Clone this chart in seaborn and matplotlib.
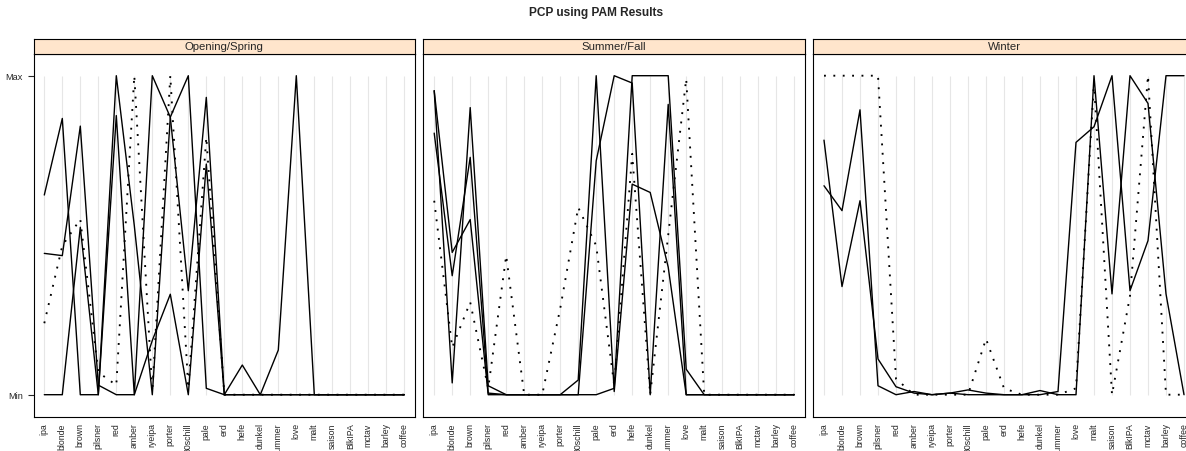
import matplotlib
matplotlib.use("Agg")
import matplotlib.pyplot as plt
import seaborn as sns
import pandas as pd
import numpy as np

sns.set_style("white")
plt.rcParams["font.family"] = ["Liberation Sans", "DejaVu Sans"]

variables = ["ipa", "blonde", "brown", "pilsner", "red", "amber", "ryeipa", "porter",
             "80schill", "pale", "erd", "hefe", "dunkel", "summer", "love", "malt",
             "saison", "BlkIPA", "mctav", "barley", "coffee"]
seasons = ["Opening/Spring", "Summer/Fall", "Winter"]
y_tick_labels = ["Min", "Max"]
title = "PCP using PAM Results"

# Opening/Spring medoids (scaled 0 = Min, 1 = Max)
spring_1 = [0.626, 0.866, 0.0, 0.0, 0.875, 0.0, 1.0, 0.87, 0.326, 0.932, 0.0,
            0.0, 0.0, 0.0, 0.0, 0.0, 0.0, 0.0, 0.0, 0.0, 0.0]
spring_2 = [0.443, 0.436, 0.842, 0.03, 0.0, 0.0, 0.17, 0.315, 0.0, 0.723, 0.0,
            0.093, 0.0, 0.14, 1.0, 0.0, 0.0, 0.0, 0.0, 0.0, 0.0]
spring_3 = [0.0, 0.0, 0.525, 0.0, 1.0, 0.53, 0.0, 0.87, 1.0, 0.02, 0.0,
            0.0, 0.0, 0.0, 0.0, 0.0, 0.0, 0.0, 0.0, 0.0, 0.0]
spring_4 = [0.224, 0.467, 0.55, 0.07, 0.03, 1.0, 0.01, 1.0, 0.02, 0.807, 0.0,
            0.0, 0.0, 0.0, 0.0, 0.0, 0.0, 0.0, 0.0, 0.0, 0.0]

# Summer/Fall medoids
summer_1 = [0.953, 0.037, 0.9, 0.028, 0.0, 0.0, 0.0, 0.0, 0.0, 0.733, 1.0,
            0.977, 0.0, 0.91, 0.0, 0.0, 0.0, 0.0, 0.0, 0.0, 0.0]
summer_2 = [0.82, 0.373, 0.744, 0.005, 0.0, 0.0, 0.0, 0.0, 0.046, 1.0, 0.01,
            0.66, 0.634, 0.4, 0.0, 0.0, 0.0, 0.0, 0.0, 0.0, 0.0]
summer_3 = [0.953, 0.446, 0.549, 0.0, 0.0, 0.0, 0.0, 0.0, 0.0, 0.0, 0.02,
            1.0, 1.0, 1.0, 0.08, 0.0, 0.0, 0.0, 0.0, 0.0, 0.0]
summer_4 = [0.608, 0.148, 0.29, 0.02, 0.436, 0.0, 0.0, 0.27, 0.587, 0.467, 0.03,
            0.755, 0.0, 0.5, 0.99, 0.0, 0.0, 0.0, 0.0, 0.0, 0.0]

# Winter medoids
winter_1 = [0.798, 0.339, 0.608, 0.112, 0.025, 0.005, 0.0, 0.005, 0.0, 0.0, 0.0,
            0.0, 0.013, 0.0, 0.0, 1.0, 0.316, 1.0, 0.913, 0.316, 0.0]
winter_2 = [0.655, 0.577, 0.893, 0.028, 0.0, 0.01, 0.0, 0.005, 0.015, 0.005, 0.0,
            0.0, 0.0, 0.01, 0.791, 0.84, 1.0, 0.326, 0.483, 1.0, 1.0]
winter_3 = [1.0, 1.0, 1.0, 1.0, 0.05, 0.0, 0.0, 0.0, 0.0, 0.175, 0.02,
            0.0, 0.0, 0.0, 0.02, 0.98, 0.0, 0.31, 1.0, 0.0, 0.0]

panel_lines = {
    "Opening/Spring": [(spring_1, "solid"), (spring_2, "solid"), (spring_3, "solid"), (spring_4, "dotted")],
    "Summer/Fall": [(summer_1, "solid"), (summer_2, "solid"), (summer_3, "solid"), (summer_4, "dotted")],
    "Winter": [(winter_1, "solid"), (winter_2, "solid"), (winter_3, "dotted")],
}

rows = []
for season, lines in panel_lines.items():
    for k, (vals, kind) in enumerate(lines):
        for j, v in enumerate(vals):
            rows.append({"season": season, "line": k, "pos": j, "value": v, "kind": kind})
df = pd.DataFrame(rows)

W, H = 1186, 452
fig = plt.figure(figsize=(W / 100, H / 100), dpi=100)
fig.patch.set_facecolor("white")

unit_x = 18.0
panel_w = 21.2 * unit_x
lefts = [33.5, 423.4, 813.2]
p_top, p_bot = 54.5, 418.0
strip_top = 40.0
y_max_px, y_min_px = 76.7, 395.7
unit_y = y_min_px - y_max_px
ylim_top = 1 + (y_max_px - p_top) / unit_y
ylim_bot = -(p_bot - y_min_px) / unit_y

fig.text(W / 2 / W + 0.003, 1 - 13 / H, title, ha="center", va="center",
         fontsize=8.6, fontweight="bold")

n = len(variables)
for i, season in enumerate(seasons):
    l = lefts[i]
    ax = fig.add_axes([l / W, 1 - p_bot / H, panel_w / W, (p_bot - p_top) / H])
    ax.set_facecolor("white")
    ax.vlines(np.arange(n), 0, 1, color="#E6E6E6", lw=0.8, zorder=0)
    sub = df[df["season"] == season]
    sns.lineplot(data=sub, x="pos", y="value", units="line", style="kind",
                 estimator=None, sort=False, color="black", lw=1.0,
                 dashes={"solid": "", "dotted": (1, 4.0)},
                 legend=False, ax=ax, zorder=3)
    for ln in ax.lines:
        if ln.get_linestyle() not in ("-", "solid"):
            ln.set_linewidth(1.35)
    ax.set_xlim(-0.6, n - 1 + 0.6)
    ax.set_ylim(ylim_bot, ylim_top)
    ax.set_xticks(np.arange(n))
    ax.set_xticklabels(variables, rotation=90, fontsize=6.3, va="top", ha="center")
    ax.tick_params(axis="x", length=0, pad=3.8)
    if i == 0:
        ax.set_yticks([0, 1])
        ax.set_yticklabels(y_tick_labels, fontsize=6.6)
        ax.tick_params(axis="y", length=4.0, width=0.8, pad=3.6, left=True, direction="out")
    else:
        ax.set_yticks([])
    ax.set_xlabel("")
    ax.set_ylabel("")
    for s in ax.spines.values():
        s.set_color("black")
        s.set_linewidth(0.8)
    sax = fig.add_axes([l / W, 1 - p_top / H, panel_w / W, (p_top - strip_top) / H])
    sax.set_facecolor("#FFE5CC")
    sax.set_xticks([])
    sax.set_yticks([])
    for s in sax.spines.values():
        s.set_color("black")
        s.set_linewidth(0.8)
    sax.text(0.5, 0.5, season, ha="center", va="center", fontsize=8.2,
             transform=sax.transAxes)

fig.savefig("out.png", dpi=100)
